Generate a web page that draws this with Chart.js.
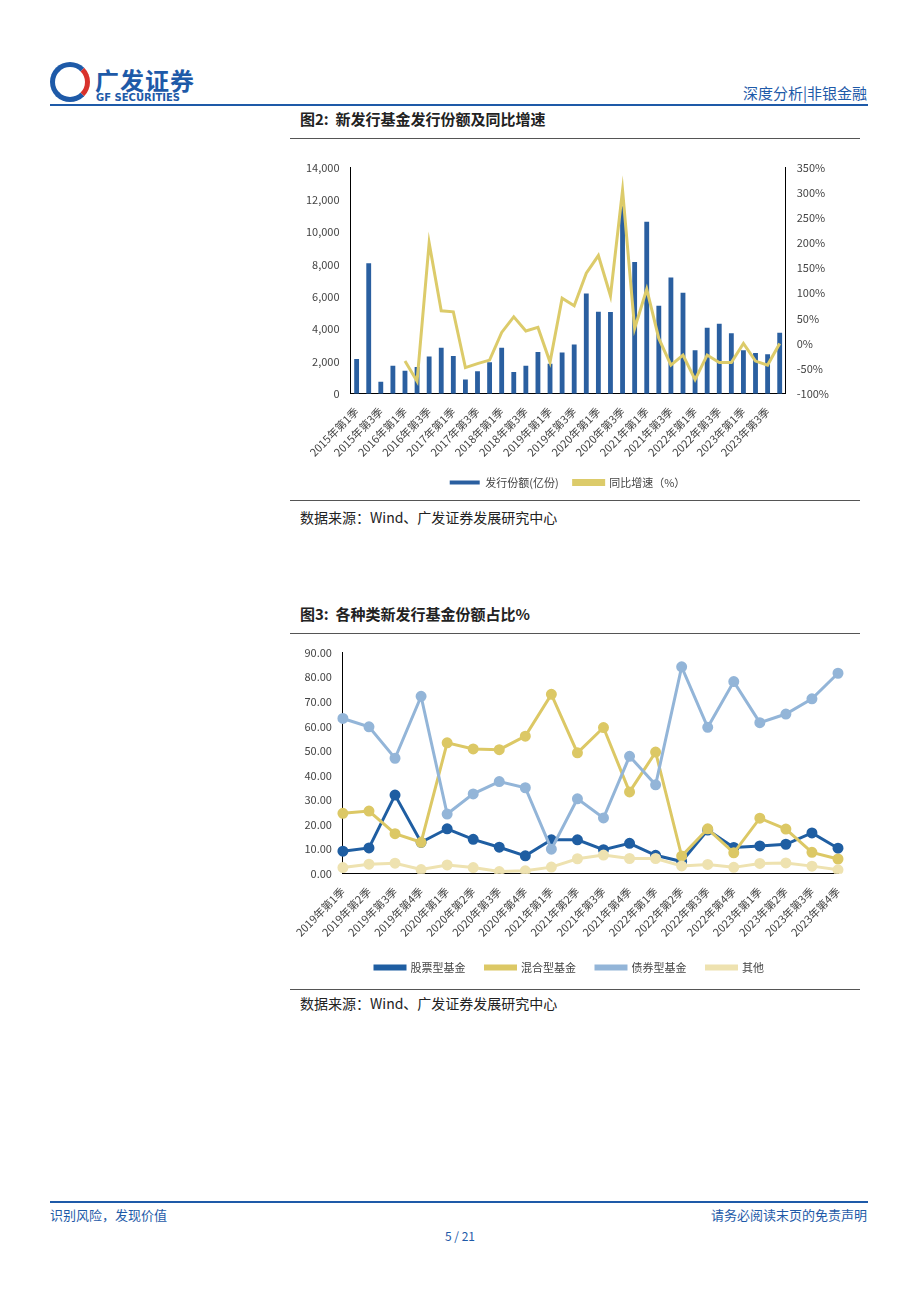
<!DOCTYPE html>
<html><head><meta charset="utf-8">
<script src="https://cdn.jsdelivr.net/npm/chart.js@4/dist/chart.umd.min.js"></script>
<style>
body{margin:0;width:920px;height:1302px;position:relative;background:#fff;font-family:"Noto Sans CJK SC","Noto Sans",sans-serif;color:#222;overflow:hidden}
.a{position:absolute}
.hr{position:absolute;height:1px;background:#555}
</style></head><body>
<div class="a" style="left:50px;top:62px;width:40px;height:40px;border-radius:50%;border:5px solid #1e5aa8;box-sizing:border-box;border-right-color:#d8322c"></div>
<div class="a" style="left:95px;top:62px;font-size:24px;font-weight:bold;color:#1e5aa8;letter-spacing:1px">广发证券</div>
<div class="a" style="left:96px;top:92px;font-size:10px;font-weight:bold;color:#1e5aa8;font-family:'DejaVu Sans'">GF SECURITIES</div>
<div class="a" style="right:53px;top:82px;font-size:15px;color:#1e5aa8">深度分析|非银金融</div>
<div class="hr" style="left:50px;top:104px;width:818px;background:#1e5aa8;height:2px"></div>
<div class="a" style="left:300px;top:108px;font-size:15px;font-weight:bold">图2:&nbsp; 新发行基金发行份额及同比增速</div>
<div class="hr" style="left:290px;top:138px;width:570px"></div>
<div class="a" style="left:295px;top:158px;width:565px;height:340px"><canvas id="c1"></canvas></div>
<div class="hr" style="left:290px;top:500px;width:570px"></div>
<div class="a" style="left:300px;top:507px;font-size:14px">数据来源：Wind、广发证券发展研究中心</div>
<div class="a" style="left:300px;top:603px;font-size:15px;font-weight:bold">图3:&nbsp; 各种类新发行基金份额占比%</div>
<div class="hr" style="left:290px;top:633px;width:570px"></div>
<div class="a" style="left:295px;top:643px;width:565px;height:340px"><canvas id="c2"></canvas></div>
<div class="hr" style="left:290px;top:989px;width:570px"></div>
<div class="a" style="left:300px;top:993px;font-size:14px">数据来源：Wind、广发证券发展研究中心</div>
<div class="hr" style="left:50px;top:1201px;width:818px;background:#1e5aa8;height:2px"></div>
<div class="a" style="left:50px;top:1205px;font-size:13px;color:#1e5aa8">识别风险，发现价值</div>
<div class="a" style="right:53px;top:1205px;font-size:13px;color:#1e5aa8">请务必阅读末页的免责声明</div>
<div class="a" style="left:0;width:920px;top:1227px;text-align:center;font-size:12px;color:#1e5aa8">5 / 21</div>
<script>
const quarters1=[];for(let y=2015;y<=2023;y++)for(let q=1;q<=4;q++)quarters1.push(y+"年第"+q+"季");
const issueShares=[2150,8080,750,1730,1420,1650,2300,2850,2330,880,1400,1950,2850,1340,1730,2580,1850,2560,3050,6200,5080,5060,11600,8150,10650,5450,7200,6250,2700,4080,4330,3750,2700,2530,2450,3780];
const yoyGrowth=[null,null,null,null,-35,-75,200,65,63,-48,-40,-33,22,53,25,32,-37,90,75,140,175,95,305,30,108,10,-43,-23,-72,-23,-38,-38,0,-35,-43,0];
const quarters2=[];for(let y=2019;y<=2023;y++)for(let q=1;q<=4;q++)quarters2.push(y+"年第"+q+"季");
const stockFund=[9.2,10.5,32,12.8,18.3,14,10.8,7.3,13.8,13.8,9.8,12.4,7.5,5,17.8,10.7,11.3,12,16.6,10.4];
const mixedFund=[24.6,25.5,16.3,12.8,53.3,50.8,50.5,56,73,49.2,59.5,33.3,49.5,7.2,18.3,8.5,22.6,18.2,8.7,6];
const bondFund=[63.2,59.8,47,72.2,24.3,32.5,37.5,35,10,30.5,22.7,47.8,36.2,84.2,59.6,78.2,61.5,65,71.2,81.6];
const otherFund=[2.5,3.9,4.3,1.7,3.6,2.5,0.9,1.2,2.7,6.1,7.6,6.2,6.2,3.2,3.8,2.6,4.2,4.4,3.1,1.6];
const F="'Noto Sans CJK SC',sans-serif";
Chart.defaults.font.family=F;Chart.defaults.font.size=11;Chart.defaults.color='#444';
const xt={autoSkip:false,maxRotation:45,minRotation:45,font:{size:11}};
new Chart(document.getElementById('c1'),{data:{labels:quarters1,datasets:[
 {type:'line',label:'同比增速（%）',data:yoyGrowth,yAxisID:'y2',borderColor:'#dccb6a',backgroundColor:'#dccb6a',borderWidth:3,pointRadius:0,tension:0,order:0},
 {type:'bar',label:'发行份额(亿份)',data:issueShares,yAxisID:'y',backgroundColor:'#2a5fa0',barPercentage:0.4,categoryPercentage:1,order:1}]},
 options:{animation:false,responsive:true,maintainAspectRatio:false,layout:{padding:{left:8,right:28}},
 plugins:{legend:{position:'bottom',reverse:true,labels:{boxWidth:30,boxHeight:4,font:{size:11},padding:15}}},
 scales:{x:{grid:{display:false},border:{color:'#000'},ticks:{...xt,callback:(v,i)=>i%2===0?quarters1[i]:''}},
  y:{min:0,max:14000,ticks:{stepSize:2000,callback:v=>v.toLocaleString('en-US')},grid:{display:false},border:{color:'#000'}},
  y2:{position:'right',min:-100,max:350,ticks:{stepSize:50,callback:v=>v+'%'},grid:{display:false},border:{color:'#000'}}}}});
const ds=(l,d,c)=>({label:l,data:d,borderColor:c,backgroundColor:c,borderWidth:3,pointRadius:4,pointHoverRadius:4,tension:0});
new Chart(document.getElementById('c2'),{type:'line',data:{labels:quarters2,datasets:[
 ds('其他',otherFund,'#eee2b0'),ds('债券型基金',bondFund,'#93b5d8'),ds('混合型基金',mixedFund,'#dcc865'),ds('股票型基金',stockFund,'#1f5ea2')]},
 options:{animation:false,responsive:true,maintainAspectRatio:false,layout:{padding:{left:6,right:22}},
 plugins:{legend:{position:'bottom',reverse:true,labels:{boxWidth:30,boxHeight:3,padding:20,font:{size:11}}}},
 scales:{x:{grid:{display:false},border:{color:'#000'},ticks:xt},
  y:{min:0,max:90,ticks:{stepSize:10,callback:v=>v.toFixed(2)},grid:{display:false},border:{color:'#000'}}}}});
</script></body></html>
